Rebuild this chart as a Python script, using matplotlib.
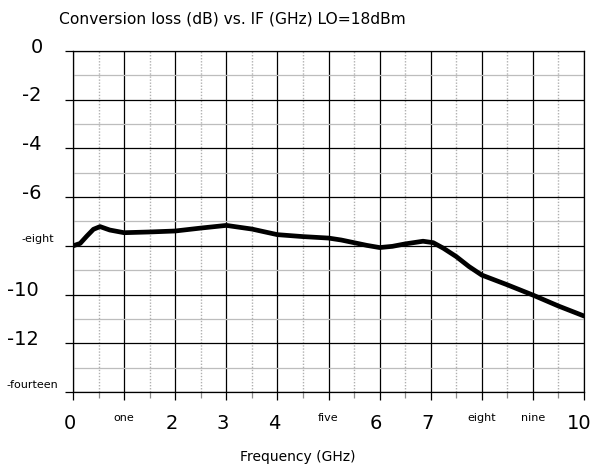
import matplotlib
matplotlib.use("Agg")
import matplotlib.pyplot as plt
from matplotlib.transforms import blended_transform_factory, offset_copy

# ---- data ----
freq_ghz = [0.0, 0.14, 0.27, 0.40, 0.53, 0.72, 1.0, 1.5, 2.0, 2.5, 3.0, 3.5, 4.0,
            4.5, 5.0, 5.25, 5.5, 5.75, 6.0, 6.25, 6.5, 6.85, 7.05, 7.25, 7.5,
            7.75, 8.0, 8.5, 9.0, 9.5, 10.0]
loss_db = [-8.0, -7.9, -7.6, -7.32, -7.21, -7.35, -7.46, -7.43, -7.39, -7.27,
           -7.16, -7.31, -7.54, -7.62, -7.68, -7.76, -7.87, -7.98, -8.07, -8.02,
           -7.92, -7.81, -7.87, -8.1, -8.44, -8.85, -9.2, -9.6, -10.02, -10.47,
           -10.88]

x_tick_values = [0, 1, 2, 3, 4, 5, 6, 7, 8, 9, 10]
x_tick_labels = ["0", "one", "2", "3", "4", "five", "6", "7", "eight", "nine", "10"]
y_tick_values = [0, -2, -4, -6, -8, -10, -12, -14]
y_tick_labels = ["0", "-2", "-4", "-6", "-eight", "-10", "-12", "-fourteen"]

title_text = "Conversion loss (dB) vs. IF (GHz) LO=18dBm"
xlabel_text = "Frequency (GHz)"

# ---- figure ----
W, H = 592, 469
fig = plt.figure(figsize=(W / 100, H / 100), dpi=100)
ax_left, ax_right, ax_top, ax_bottom = 73, 584, 51, 392
ax = fig.add_axes([ax_left / W, 1 - ax_bottom / H,
                   (ax_right - ax_left) / W, (ax_bottom - ax_top) / H])

ax.plot(freq_ghz, loss_db, color="black", lw=3.4, solid_capstyle="round",
        solid_joinstyle="round", zorder=5)

ax.set_xlim(0, 10)
ax.set_ylim(-14, 0)
ax.set_xticks(x_tick_values)
ax.set_xticks([v + 0.5 for v in x_tick_values[:-1]], minor=True)
ax.set_yticks(y_tick_values)
ax.set_yticks([v - 1 for v in y_tick_values[:-1]], minor=True)

ax.xaxis.grid(True, which="major", color="black", lw=0.9)
ax.yaxis.grid(True, which="major", color="black", lw=0.9)
ax.xaxis.grid(True, which="minor", color="#b0b0b0", lw=1.0, ls=(0, (1.0, 1.2)))
ax.yaxis.grid(True, which="minor", color="#bdbdbd", lw=0.9)
ax.set_axisbelow(True)

ax.tick_params(axis="both", which="major", direction="out", length=5.8,
               width=0.9, color="black", labelbottom=False, labelleft=False)
ax.tick_params(axis="x", which="minor", direction="out", length=4.0,
               width=0.9, color="#8c8c8c")
ax.tick_params(axis="y", which="minor", length=0)
for s in ax.spines.values():
    s.set_color("black")
    s.set_linewidth(0.9)

# x tick labels (mixed sizes)
bx = blended_transform_factory(ax.transData, ax.transAxes)
for v, lab in zip(x_tick_values, x_tick_labels):
    big = lab.isdigit()
    if big:
        tr = offset_copy(bx, fig=fig, x=-3.5 if v < 10 else -5, y=-37, units="dots")
        ax.text(v, 0, lab, transform=tr, ha="center", va="baseline", fontsize=14)
    else:
        tr = offset_copy(bx, fig=fig, x=0, y=-29, units="dots")
        ax.text(v, 0, lab, transform=tr, ha="center", va="baseline", fontsize=8)

# y tick labels (mixed sizes)
by = blended_transform_factory(ax.transAxes, ax.transData)
y_label_left_px = [32, 22.7, 22.7, 22.7, 22.7, 7.3, 7.3, 7.3]
for v, lab, lx in zip(y_tick_values, y_tick_labels, y_label_left_px):
    big = len(lab) <= 3
    dy = -1.5 if big else 3.5
    tr = offset_copy(by, fig=fig, x=lx - ax_left - 0.8, y=dy, units="dots")
    ax.text(0, v, lab, transform=tr, ha="left", va="baseline",
            fontsize=14 if big else 8)

fig.text(59 / W, 1 - 24 / H, title_text, ha="left", va="baseline", fontsize=11.2)
fig.text(297.5 / W, 1 - 460.5 / H, xlabel_text, ha="center", va="baseline", fontsize=10)

fig.savefig("out.png", dpi=100)
